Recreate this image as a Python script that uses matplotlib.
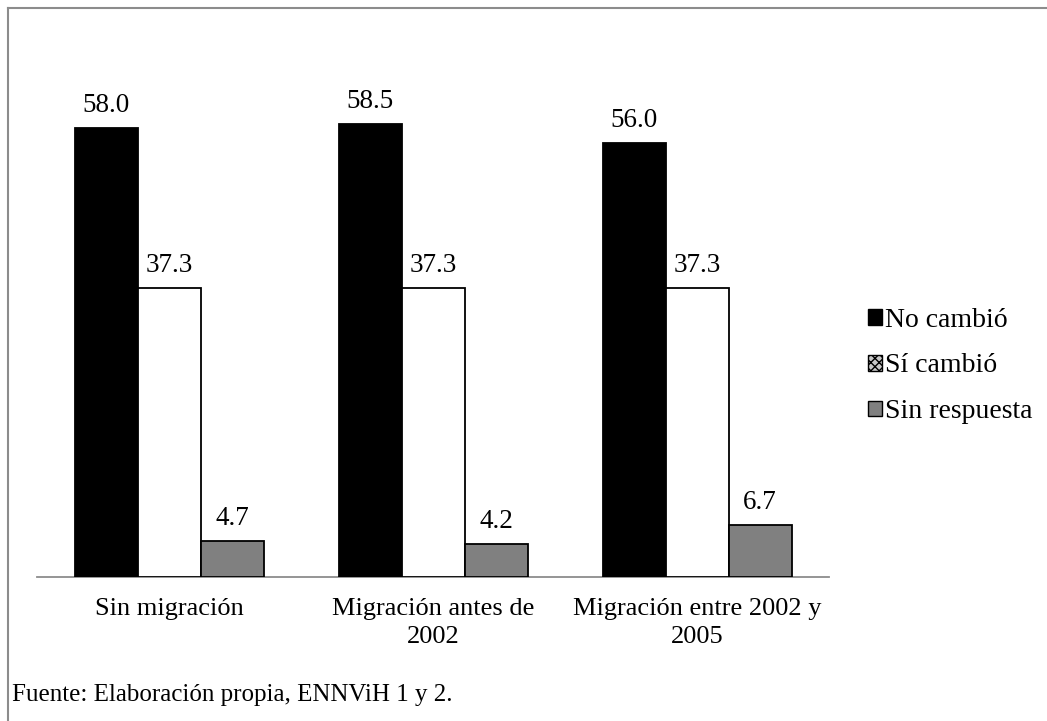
import matplotlib
matplotlib.use("Agg")
import matplotlib.pyplot as plt
from matplotlib.patches import Patch
from matplotlib.lines import Line2D
import numpy as np

categories = ["Sin migración", "Migración antes de\n2002", "Migración entre 2002 y\n2005"]
series_names = ["No cambió", "Sí cambió", "Sin respuesta"]
no_cambio = [58.0, 58.5, 56.0]
si_cambio = [37.3, 37.3, 37.3]
sin_respuesta = [4.7, 4.2, 6.7]
source_note = "Fuente: Elaboración propia, ENNViH 1 y 2."

plt.rcParams['font.family'] = ['Liberation Serif', 'DejaVu Serif']

W, H = 1047, 721
fig = plt.figure(figsize=(W / 100, H / 100), dpi=100)

# axes in pixel coordinates: x 37..829, baseline at y=577
ymax = 70.0
px_per_unit = 449 / 58.0
ax_top = 577 - ymax * px_per_unit
ax = fig.add_axes([37 / W, 1 - 577 / H, (829 - 37) / W, (577 - ax_top) / H])

x = np.arange(len(categories))
bw = 63 / 264
series = [no_cambio, si_cambio, sin_respuesta]
faces = ["#000000", "#ffffff", "#808080"]
for i, (vals, fc) in enumerate(zip(series, faces)):
    pos = x + (i - 1) * bw
    ax.bar(pos, vals, width=bw, color=fc, edgecolor="black", linewidth=1.3, zorder=3)
    for xb, v in zip(pos, vals):
        ax.text(xb, v + 1.3, f"{v:.1f}", ha="center", va="bottom", fontsize=19.5)

ax.set_xlim(-0.5, 2.5)
ax.set_ylim(0, ymax)
for s in ["top", "right", "left"]:
    ax.spines[s].set_visible(False)
ax.spines["bottom"].set_color("#8c8c8c")
ax.spines["bottom"].set_linewidth(1.3)
ax.set_yticks([])
ax.set_xticks(x)
ax.set_xticklabels(categories, fontsize=19, linespacing=1.35)
ax.tick_params(axis="x", length=0, pad=15)

# legend
handles = [
    Patch(facecolor="#000000", edgecolor="black", linewidth=1),
    Patch(facecolor="#c8c8c8", edgecolor="black", linewidth=1, hatch="xxxx"),
    Patch(facecolor="#808080", edgecolor="black", linewidth=1),
]
fig.legend(handles, series_names, loc="center left",
           bbox_to_anchor=(857 / W, 1 - 366 / H), frameon=False, fontsize=20,
           handlelength=0.5, handleheight=0.5, handletextpad=0.1,
           labelspacing=0.75, borderaxespad=0)

# border lines (left and top)
fig.add_artist(Line2D([8 / W, 8 / W], [0, 1 - 8 / H], transform=fig.transFigure,
                      color="#8c8c8c", linewidth=1.5))
fig.add_artist(Line2D([8 / W, 1], [1 - 8 / H, 1 - 8 / H], transform=fig.transFigure,
                      color="#8c8c8c", linewidth=1.5))

fig.text(12 / W, 1 - 695 / H, source_note, fontsize=18, ha="left", va="center")

fig.savefig("out.png", dpi=100)
